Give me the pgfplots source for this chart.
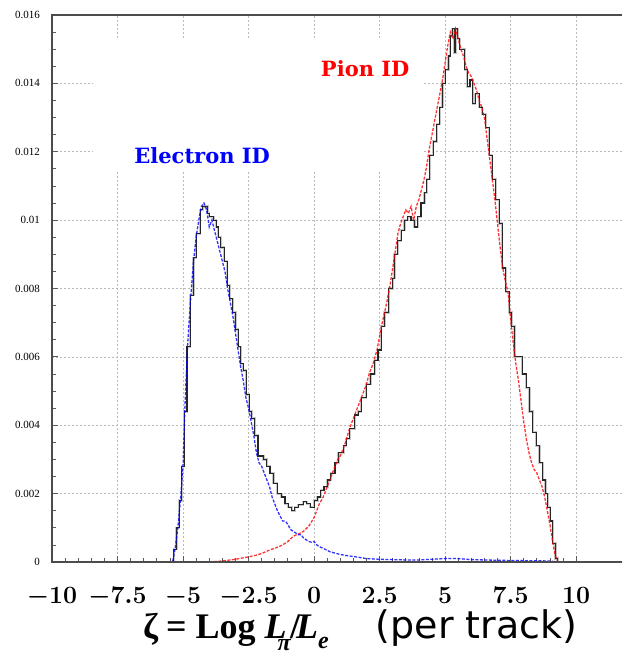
\documentclass[border=0pt]{standalone}
\usepackage{fontspec}
\setmainfont{Liberation Serif}
\newfontfamily\pertrack{DejaVu Sans}
\newfontfamily\labfont{DejaVu Serif}
\usepackage{pgfplots}
\pgfplotsset{compat=1.18}
\usepackage{pgfplotstable}

% combined histogram (black steps)
\pgfplotstableread{
x y
-10 0
-5.35 0.00037
-5.25 0.001
-5.15 0.0018
-5.05 0.0028
-4.95 0.0044
-4.85 0.0063
-4.73 0.0078
-4.6 0.0089
-4.5 0.0096
-4.35 0.0103
-4.25 0.0104
-4.07 0.0102
-4.0 0.0101
-3.92 0.0101
-3.84 0.0100
-3.74 0.0098
-3.66 0.0095
-3.56 0.0092
-3.43 0.0088
-3.31 0.0081
-3.21 0.0077
-3.10 0.0073
-3.0 0.0068
-2.90 0.0063
-2.80 0.0058
-2.70 0.0056
-2.59 0.0049
-2.47 0.0044
-2.38 0.0042
-2.26 0.0037
-2.14 0.0031
-1.93 0.0030
-1.81 0.0028
-1.68 0.0026
-1.55 0.0023
-1.40 0.0020
-1.24 0.0019
-1.11 0.0017
-0.98 0.0016
-0.85 0.0015
-0.73 0.0016
-0.60 0.00167
-0.41 0.00176
-0.28 0.0017
-0.15 0.00160
0.0 0.0018
0.13 0.0019
0.25 0.0021
0.38 0.0022
0.51 0.0024
0.64 0.0026
0.80 0.0029
0.93 0.0032
1.13 0.0034
1.23 0.0036
1.36 0.0039
1.55 0.0043
1.68 0.0044
1.8 0.0048
1.99 0.0052
2.15 0.0055
2.31 0.0059
2.44 0.0062
2.56 0.0069
2.69 0.0073
2.85 0.0080
3.0 0.0083
3.07 0.0090
3.2 0.0094
3.32 0.0097
3.45 0.0100
3.58 0.0101
3.7 0.0100
3.83 0.0098
3.96 0.0101
4.08 0.0105
4.21 0.0108
4.3 0.0112
4.42 0.0119
4.55 0.0123
4.68 0.0128
4.8 0.0133
4.9 0.0140
5.0 0.0144
5.13 0.0148
5.2 0.0154
5.28 0.0156
5.35 0.0149
5.41 0.0156
5.48 0.0153
5.56 0.0150
5.75 0.0144
5.85 0.0139
5.95 0.0141
6.05 0.0134
6.15 0.0137
6.3 0.0133
6.42 0.0131
6.55 0.0127
6.68 0.0119
6.8 0.0112
6.93 0.0106
7.06 0.0099
7.18 0.0086
7.31 0.0079
7.44 0.0073
7.53 0.0069
7.65 0.0060
7.94 0.0055
8.1 0.0051
8.22 0.0044
8.35 0.0038
8.48 0.0034
8.6 0.0029
8.73 0.0024
8.83 0.0020
8.92 0.0016
9.01 0.0012
9.11 0.00055
9.21 0.0001
9.3 0
11.75 0
}\blacktab

% electron ID
\pgfplotstableread{
x y
-10 0
-5.4 0
-5.3 0.0004
-5.2 0.001
-5.1 0.0018
-5.0 0.0028
-4.93 0.0045
-4.83 0.0063
-4.71 0.0077
-4.6 0.0088
-4.5 0.0095
-4.4 0.0100
-4.3 0.0104
-4.2 0.0105
-4.1 0.0103
-4.0 0.0098
-3.9 0.0100
-3.8 0.0097
-3.7 0.0094
-3.6 0.0091
-3.5 0.0088
-3.4 0.0085
-3.3 0.0080
-3.2 0.0076
-3.1 0.0072
-3.0 0.0067
-2.9 0.0062
-2.8 0.0057
-2.7 0.0053
-2.6 0.0048
-2.5 0.0045
-2.4 0.0041
-2.3 0.0037
-2.2 0.0032
-2.1 0.0029
-2.0 0.0028
-1.9 0.0026
-1.8 0.0024
-1.7 0.0022
-1.6 0.0019
-1.5 0.0017
-1.4 0.0015
-1.3 0.00135
-1.2 0.0012
-1.1 0.0012
-1.0 0.0011
-0.9 0.00095
-0.8 0.0009
-0.7 0.00085
-0.6 0.0008
-0.5 0.0008
-0.4 0.0007
-0.3 0.00065
-0.2 0.0006
-0.1 0.00058
0.0 0.0006
0.1 0.0005
0.2 0.00045
0.4 0.00038
0.6 0.0003
0.8 0.00026
1.0 0.00022
1.3 0.00018
1.6 0.00015
2.0 0.0001
2.5 0.00008
3.0 0.00007
3.5 0.00006
4.0 0.00006
4.5 0.00008
5.0 0.0001
5.5 0.0001
6.0 0.00007
7.0 0.00005
8.0 0.00004
9.0 0.00003
9.3 0
11.75 0
}\electab

% pion ID
\pgfplotstableread{
x y
-10 0
-4 0
-3.5 0.00003
-3.0 0.00008
-2.5 0.00015
-2.2 0.0002
-2.0 0.00025
-1.7 0.00035
-1.4 0.00043
-1.2 0.0005
-1.0 0.0006
-0.8 0.00075
-0.6 0.00082
-0.4 0.0009
-0.2 0.00105
0.0 0.0013
0.1 0.0015
0.2 0.0017
0.35 0.0019
0.5 0.0022
0.6 0.0024
0.75 0.0027
0.9 0.003
1.0 0.0031
1.1 0.0033
1.2 0.0035
1.35 0.0039
1.5 0.0042
1.6 0.0044
1.75 0.0047
1.9 0.0050
2.0 0.0052
2.1 0.0055
2.25 0.0058
2.4 0.0062
2.5 0.0066
2.6 0.0070
2.75 0.0075
2.9 0.0081
3.0 0.0086
3.1 0.0091
3.2 0.0096
3.3 0.0099
3.4 0.0101
3.5 0.0103
3.6 0.0102
3.7 0.0104
3.8 0.0100
3.9 0.0104
4.0 0.0106
4.1 0.0109
4.2 0.0112
4.3 0.0116
4.4 0.0121
4.5 0.0125
4.6 0.0129
4.7 0.0133
4.8 0.0137
4.9 0.0141
5.0 0.0146
5.1 0.0151
5.2 0.0155
5.3 0.0153
5.4 0.0156
5.5 0.0153
5.6 0.0150
5.7 0.0148
5.8 0.0145
5.9 0.0143
6.0 0.0142
6.1 0.0140
6.2 0.0138
6.3 0.0135
6.4 0.0133
6.5 0.0130
6.6 0.0124
6.7 0.0118
6.8 0.0112
6.9 0.0106
7.0 0.0099
7.1 0.0092
7.2 0.0086
7.3 0.0082
7.4 0.0079
7.5 0.0071
7.6 0.0064
7.7 0.0058
7.8 0.0053
7.9 0.0047
8.0 0.0041
8.1 0.0036
8.2 0.0032
8.3 0.0029
8.4 0.0027
8.5 0.0026
8.6 0.0024
8.7 0.0022
8.8 0.0019
8.9 0.0015
9.0 0.0011
9.1 0.0006
9.2 0.0002
9.3 0
11.75 0
}\piontab

\begin{document}
\begin{tikzpicture}
\begin{axis}[
  name=ax, at={(0,0)}, anchor=south west,
  scale only axis, width=570pt, height=547pt,
  xmin=-10, xmax=11.75, ymin=0, ymax=0.016,
  axis line style={draw=none},
  xtick={-10,-7.5,-5,-2.5,0,2.5,5,7.5,10},
  xticklabels={$-10$,$-7.5$,$-5$,$-2.5$,$0$,$2.5$,$5$,$7.5$,$10$},
  minor x tick num=4,
  ytick={0,0.002,0.004,0.006,0.008,0.01,0.012,0.014,0.016},
  yticklabels={0,0.002,0.004,0.006,0.008,0.01,0.012,0.014,0.016},
  minor y tick num=3,
  scaled y ticks=false, scaled x ticks=false,
  xtick pos=bottom, ytick pos=left, tick align=inside,
  major tick length=6pt, minor tick length=4pt,
  tick style={gray!70!black, line width=0.8pt},
  grid=major,
  grid style={gray!55, line width=0.7pt, dash pattern=on 2pt off 2pt},
  xticklabel style={font=\fontsize{25}{25}\selectfont\boldmath, anchor=base, yshift=-41pt, inner sep=0pt},
  yticklabel style={font=\fontsize{11}{11}\selectfont, anchor=east, inner sep=0pt, xshift=-12pt},
  clip mode=individual,
]
\fill[white] (axis cs:-8.43,0.01147) rectangle (axis cs:4.1,0.0153);
\addplot[const plot, gray!45, line width=2.2pt] table[x=x,y=y] {\blacktab};
\addplot[const plot, black!85, line width=1.1pt] table[x=x,y=y] {\blacktab};
\addplot[red, line width=1.3pt, dash pattern=on 3pt off 1.5pt, opacity=0.8] table[x=x,y=y] {\piontab};
\addplot[blue, line width=1.3pt, dash pattern=on 3pt off 1.5pt, opacity=0.8] table[x=x,y=y] {\electab};
\node[font=\labfont\bfseries\fontsize{21}{21}\selectfont, text=blue] at (axis cs:-4.27,0.01188) {Electron ID};
\node[font=\labfont\bfseries\fontsize{21}{21}\selectfont, text=red] at (axis cs:1.95,0.01442) {Pion ID};
\draw[gray!60!black, line width=1.3pt] (rel axis cs:1,1) -- (rel axis cs:0,1) -- (rel axis cs:0,0) -- (rel axis cs:1,0);
\node[anchor=base west, inner sep=0pt, font=\bfseries\fontsize{36}{36}\selectfont]
  at (axis description cs:0.1596,-0.139)
  {ζ\hspace{8pt}=\hspace{9pt}Log\hspace{9pt}\textit{L}\kern-9pt\raisebox{-12pt}{\fontsize{24}{24}\selectfont\textit{π}}\kern-1pt/\kern-4pt\textit{L}\raisebox{-10pt}{\fontsize{24}{24}\selectfont\textit{e}}};
\node[anchor=base west, inner sep=0pt, font=\pertrack\fontsize{38}{38}\selectfont]
  at (axis description cs:0.568,-0.139) {(per track)};
\end{axis}
\pgfresetboundingbox
\path[use as bounding box] (ax.south west) ++(-52pt,-89pt) rectangle ++(622pt,651pt);
\end{tikzpicture}
\end{document}
